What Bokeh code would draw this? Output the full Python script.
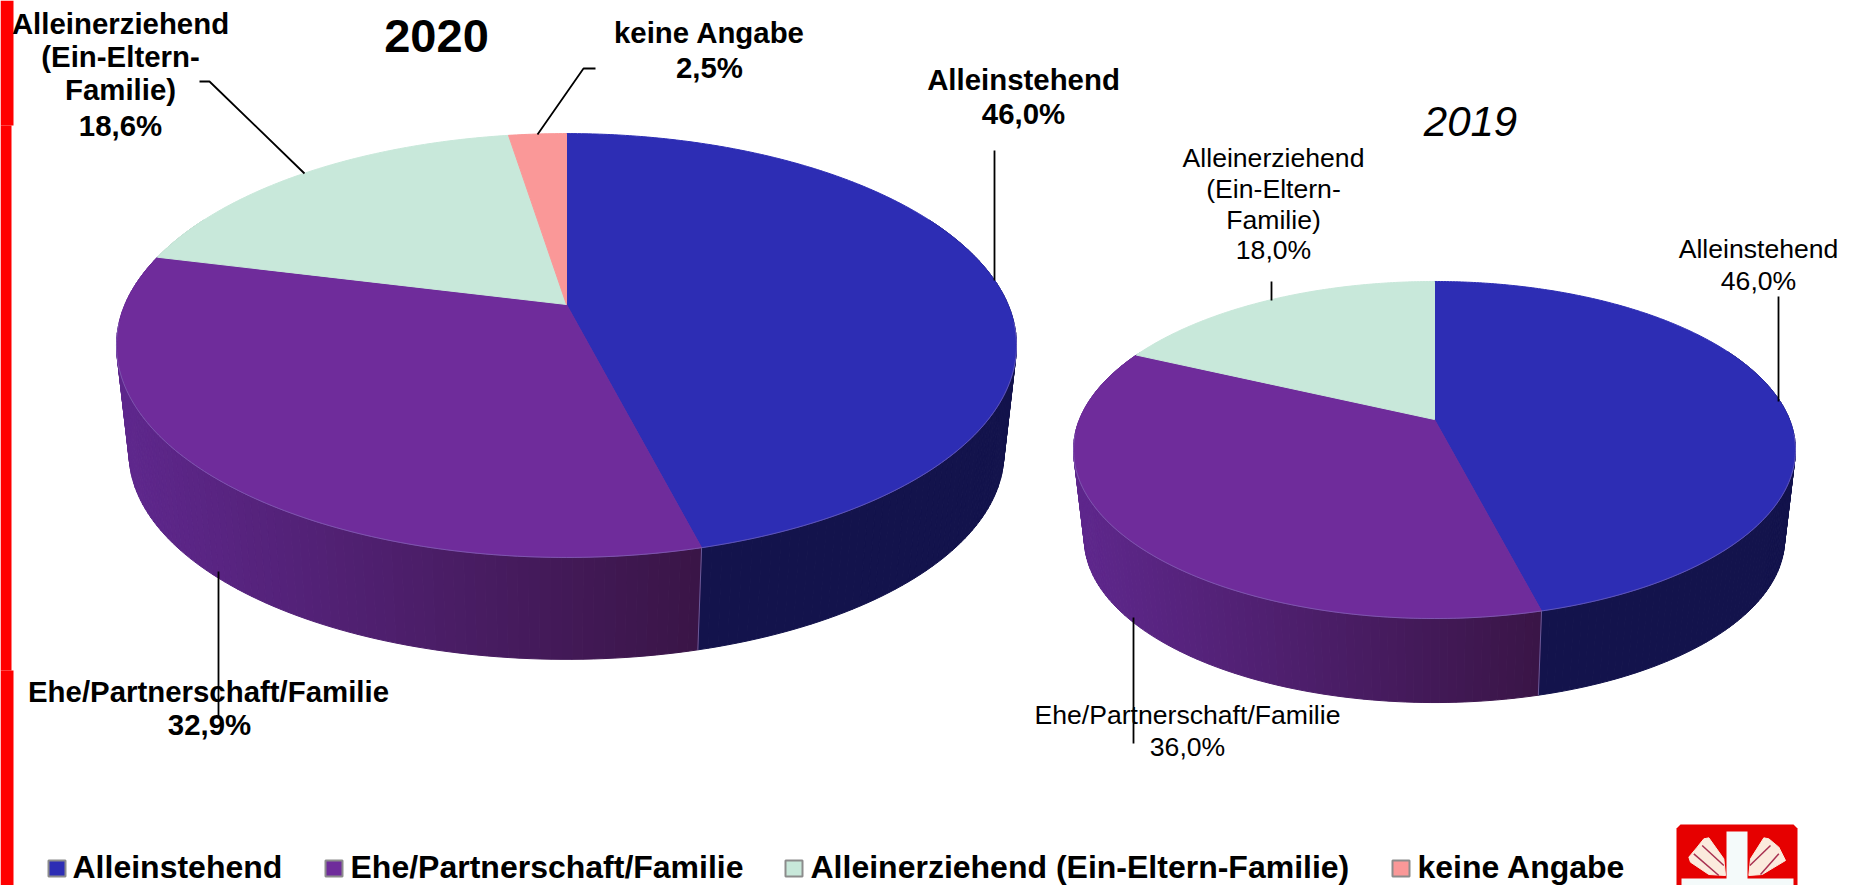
import math
from bokeh.plotting import figure
from bokeh.models import Range1d
from bokeh.core.properties import value
from bokeh.embed import file_html
from bokeh.resources import INLINE

# ---- data ----
categories = ["Alleinstehend", "Ehe/Partnerschaft/Familie",
              "Alleinerziehend (Ein-Eltern-Familie)", "keine Angabe"]
values_2020 = [46.0, 32.9, 18.6, 2.5]
values_2019 = [46.0, 36.0, 18.0, 0.0]
title_2020 = "2020"
title_2019 = "2019"

top_colors = ["#2D2DB4", "#6F2C9B", "#C8E8DA", "#FA9898"]
side_left = {0: (0x14, 0x14, 0x50), 1: (0x5E, 0x27, 0x8C), 2: (0xA0, 0xC0, 0xB0), 3: (0xC0, 0x70, 0x70)}
side_right = {0: (0x13, 0x13, 0x4C), 1: (0x3A, 0x15, 0x47), 2: (0xA0, 0xC0, 0xB0), 3: (0xC0, 0x70, 0x70)}

pie_2020 = dict(cx=566, cy=304, A=441.5, B=204, k=0.1935, s=0.972, d=109)
pie_2019 = dict(cx=1434, cy=419, A=355, B=163, k=0.181, s=0.97, d=90)

bold_labels = [
    ("Alleinerziehend", 120, 23), ("(Ein-Eltern-", 120, 56), ("Familie)", 120, 89), ("18,6%", 120, 125),
    ("keine Angabe", 709, 32), ("2,5%", 709, 67),
    ("Alleinstehend", 1023, 78.5), ("46,0%", 1023, 112.5),
    ("Ehe/Partnerschaft/Familie", 208, 691), ("32,9%", 209, 724),
]
regular_labels = [
    ("Alleinerziehend", 1273, 157), ("(Ein-Eltern-", 1273, 188), ("Familie)", 1273, 219), ("18,0%", 1273, 249),
    ("Alleinstehend", 1758, 248.5), ("46,0%", 1758, 280.5),
    ("Ehe/Partnerschaft/Familie", 1187, 714), ("36,0%", 1187, 746),
]
leaders = [
    ([199, 209, 304], [81, 81, 173]),
    ([595, 583, 537], [68, 68, 134]),
    ([994, 994], [150, 280]),
    ([218, 218], [571, 718]),
    ([1271, 1271], [281, 300]),
    ([1778, 1778], [296, 401]),
    ([1133, 1133], [617, 743]),
]
legend_swatch_x = [48, 325, 785, 1392]
legend_text_x = [72, 350, 810, 1417]

W, H = 1857, 885
p = figure(width=W, height=H, output_backend="svg", toolbar_location=None,
           x_range=Range1d(0, W), y_range=Range1d(H, 0),
           x_axis_type=None, y_axis_type=None, min_border=0,
           outline_line_color=None, background_fill_color="white", border_fill_color="white")
p.grid.visible = False


def project(pie, theta, lower=False):
    u, v = math.sin(theta), math.cos(theta)
    w = 1 + pie["k"] * v
    scale = pie["s"] if lower else 1.0
    off = pie["d"] if lower else 0.0
    return pie["cx"] + scale * pie["A"] * u / w, pie["cy"] + off - scale * pie["B"] * v / w


def hexcol(c):
    return "#%02X%02X%02X" % tuple(int(round(x)) for x in c)


def draw_pie(pie, vals):
    total = sum(vals)
    xmin = pie["cx"] - pie["A"]
    qx, qy, qc = [], [], []
    acc = 0.0
    spans = []
    for i, val in enumerate(vals):
        a0 = acc / total * 2 * math.pi
        acc += val
        a1 = acc / total * 2 * math.pi
        spans.append((i, a0, a1))
    # boundary of purple/blue on the front, sets the gradient's right end
    xbreak = project(pie, spans[0][2], True)[0]
    for i, a0, a1 in spans:
        if a1 <= a0:
            continue
        n = max(2, int((a1 - a0) / 0.02))
        for j in range(n):
            t0 = a0 + (a1 - a0) * j / n
            t1 = a0 + (a1 - a0) * (j + 1) / n
            if math.cos((t0 + t1) / 2) > 0.45:
                continue
            x0, y0 = project(pie, t0)
            x1, y1 = project(pie, t1)
            x2, y2 = project(pie, t1, True)
            x3, y3 = project(pie, t0, True)
            f = min(1.0, max(0.0, ((x0 + x1) / 2 - xmin) / (xbreak - xmin)))
            c = [side_left[i][m] + (side_right[i][m] - side_left[i][m]) * f for m in range(3)]
            qx.append([x0, x1, x2, x3])
            qy.append([y0, y1, y2, y3])
            qc.append(hexcol(c))
    p.patches(qx, qy, fill_color=qc, line_color=qc, line_width=1)
    # top faces
    for i, a0, a1 in spans:
        if a1 <= a0:
            continue
        n = max(2, int((a1 - a0) / 0.01))
        xs, ys = [pie["cx"]], [pie["cy"]]
        for j in range(n + 1):
            x, y = project(pie, a0 + (a1 - a0) * j / n)
            xs.append(x)
            ys.append(y)
        p.patch(xs, ys, fill_color=top_colors[i], line_color=top_colors[i], line_width=1)
    # light rim along the front edge
    rx, ry = [], []
    for j in range(201):
        t = math.radians(95 + 170 * j / 200)
        x, y = project(pie, t)
        rx.append(x)
        ry.append(y)
    p.line(rx, ry, line_color="#8A78C0", line_alpha=0.55, line_width=1)
    # visible seam between blue and purple on the side
    a = spans[0][2]
    x0, y0 = project(pie, a)
    x1, y1 = project(pie, a, True)
    p.line([x0, x1], [y0, y1], line_color="#6A5A9A", line_width=1)


# red bar at the left edge
p.quad(left=[0, 0, 0], right=[13, 11, 13], top=[0, 125, 670], bottom=[125, 670, 885],
       fill_color="#FF0000", line_color=None)

draw_pie(pie_2020, values_2020)
draw_pie(pie_2019, values_2019)

for xs, ys in leaders:
    p.line(xs, ys, line_color="black", line_width=1.8)

font = value("Liberation Sans")
p.text([l[1] for l in bold_labels], [l[2] for l in bold_labels], text=[l[0] for l in bold_labels],
       text_font=font, text_font_size="29.4px", text_font_style="bold", text_color="black",
       text_align="center", text_baseline="middle")
p.text([l[1] for l in regular_labels], [l[2] for l in regular_labels], text=[l[0] for l in regular_labels],
       text_font=font, text_font_size="26.6px", text_color="black",
       text_align="center", text_baseline="middle")
p.text([436], [35], text=[title_2020], text_font=font, text_font_size="47px", text_font_style="bold",
       text_color="black", text_align="center", text_baseline="middle")
p.text([1470], [121], text=[title_2019], text_font=font, text_font_size="42px", text_font_style="italic",
       text_color="black", text_align="center", text_baseline="middle")

# legend
p.quad(left=legend_swatch_x, right=[x + 17 for x in legend_swatch_x], top=[860] * 4, bottom=[876] * 4,
       fill_color=top_colors, line_color="#8C8C8C", line_width=2)
p.text(legend_text_x, [866] * 4, text=categories, text_font=font, text_font_size="32px",
       text_font_style="bold", text_color="black", text_align="left", text_baseline="middle")


# logo
def lz(pts):
    return [1640 + a / 3 for a, _ in pts], [800 + b / 3 for _, b in pts]


p.patch([1676, 1680, 1793, 1797, 1797, 1676], [828, 824, 824, 828, 885, 885],
        fill_color="#E60000", line_color=None)
p.quad(left=[1726, 1681], right=[1747, 1793], top=[831, 878], bottom=[885, 885],
       fill_color="#F4FAFA", line_color=None)
for blob in ([(205, 112), (250, 175), (255, 225), (205, 222), (150, 185), (145, 170), (170, 140), (190, 115)],
             [(370, 112), (330, 175), (325, 225), (365, 222), (435, 180), (415, 140), (385, 115)]):
    xs, ys = lz(blob)
    p.patch(xs, ys, fill_color="#FBEBDD", line_color="#FBEBDD", line_width=1)
for seg in ([(185, 135), (250, 195)], [(160, 160), (235, 225)],
            [(390, 135), (328, 195)], [(415, 160), (360, 222)]):
    xs, ys = lz(seg)
    p.line(xs, ys, line_color="#A83050", line_width=1.5)

open("out.html", "w").write(file_html(p, INLINE))
